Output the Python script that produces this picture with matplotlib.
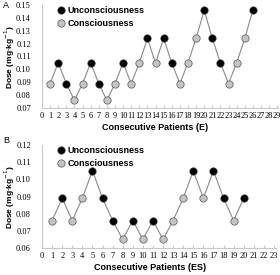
import numpy as np
import matplotlib
matplotlib.use("Agg")
import matplotlib.pyplot as plt

# panel A (E)
patients_e = list(range(1, 27))
dose_e = [0.089, 0.105, 0.089, 0.076, 0.089, 0.105, 0.089, 0.076, 0.089, 0.105,
          0.089, 0.105, 0.124, 0.105, 0.124, 0.105, 0.089, 0.105, 0.124, 0.146,
          0.124, 0.105, 0.089, 0.105, 0.124, 0.146]
# 1 = unconsciousness (black), 0 = consciousness (gray)
uncon_e = [0, 1, 1, 0, 0, 1, 1, 0, 0, 1, 0, 0, 1, 0, 1, 1, 0, 0, 0, 1, 1, 1, 0, 0, 0, 1]

# panel B (ES)
patients_es = list(range(1, 21))
dose_es = [0.076, 0.089, 0.076, 0.089, 0.105, 0.089, 0.076, 0.065, 0.076, 0.065,
           0.076, 0.065, 0.076, 0.089, 0.105, 0.089, 0.105, 0.089, 0.076, 0.089]
uncon_es = [0, 1, 0, 0, 1, 1, 1, 0, 1, 0, 1, 0, 0, 0, 1, 0, 1, 1, 0, 1]

yticks_e = [0.07, 0.08, 0.09, 0.10, 0.11, 0.12, 0.13, 0.14, 0.15]
yticks_es = [0.06, 0.07, 0.08, 0.09, 0.10, 0.11, 0.12]

W, H = 280, 275
fig = plt.figure(figsize=(W / 100, H / 100), dpi=100)

serif = "Liberation Serif"
sans = "Liberation Sans"


def panel(ax, x, y, unc, yticks, xmax, xlab, label_x, label_y):
    x = np.array(x)
    y = np.array(y)
    unc = np.array(unc, dtype=bool)
    ax.plot(x, y, color="#8a8a8a", lw=0.8, zorder=1)
    ax.scatter(x[unc], y[unc], s=28, c="black", edgecolors="#333333",
               linewidths=0.5, zorder=3, label="Unconsciousness")
    ax.scatter(x[~unc], y[~unc], s=28, c="#c4c4c4", edgecolors="#555555",
               linewidths=0.5, zorder=3, label="Consciousness")
    ax.set_xlim(0, xmax)
    ax.set_ylim(yticks[0], yticks[-1])
    ax.set_yticks(yticks)
    ax.set_yticklabels(["%.2f" % t for t in yticks], family=serif, fontsize=6)
    ax.set_xticks(range(0, int(xmax) + 1))
    ax.set_xticklabels([str(i) for i in range(0, int(xmax) + 1)],
                       family=serif, fontsize=6)
    for s in ["top", "right"]:
        ax.spines[s].set_visible(False)
    for s in ["left", "bottom"]:
        ax.spines[s].set_color("#c8c8c8")
        ax.spines[s].set_linewidth(0.8)
    ax.tick_params(axis="x", direction="in", length=2, color="#c8c8c8",
                   pad=3)
    ax.tick_params(axis="y", length=0, pad=8)
    ax.set_xlabel(xlab, family=sans, fontweight="bold", fontsize=6.5)
    ax.xaxis.set_label_coords(label_x, label_y)
    ax.set_ylabel("Dose (mg·kg$^{-1}$)", family=sans, fontweight="bold",
                  fontsize=6)
    ax.yaxis.set_label_coords(-0.105, 0.5)
    leg = ax.legend(loc="upper left", bbox_to_anchor=(0.045, 1.03),
                    frameon=False, handletextpad=0.25, labelspacing=0.45,
                    borderaxespad=0, handlelength=1.0,
                    prop={"family": sans, "weight": "bold", "size": 6.5})
    return leg


axA = fig.add_axes([42 / W, 1 - 108 / H, 236 / W, 103 / H])
panel(axA, patients_e, dose_e, uncon_e, yticks_e, 29.1,
      "Consecutive Patients (E)", 0.48, -0.145)
axB = fig.add_axes([42 / W, 1 - 248 / H, 234 / W, 103 / H])
panel(axB, patients_es, dose_es, uncon_es, yticks_es, 23.2,
      "Consecutive Patients (ES)", 0.46, -0.15)

fig.text(3 / W, 1 - 8 / H, "A", family=sans, fontsize=6.5)
fig.text(3 / W, 1 - 143 / H, "B", family=sans, fontsize=6.5)

fig.savefig("out.png", dpi=100)
